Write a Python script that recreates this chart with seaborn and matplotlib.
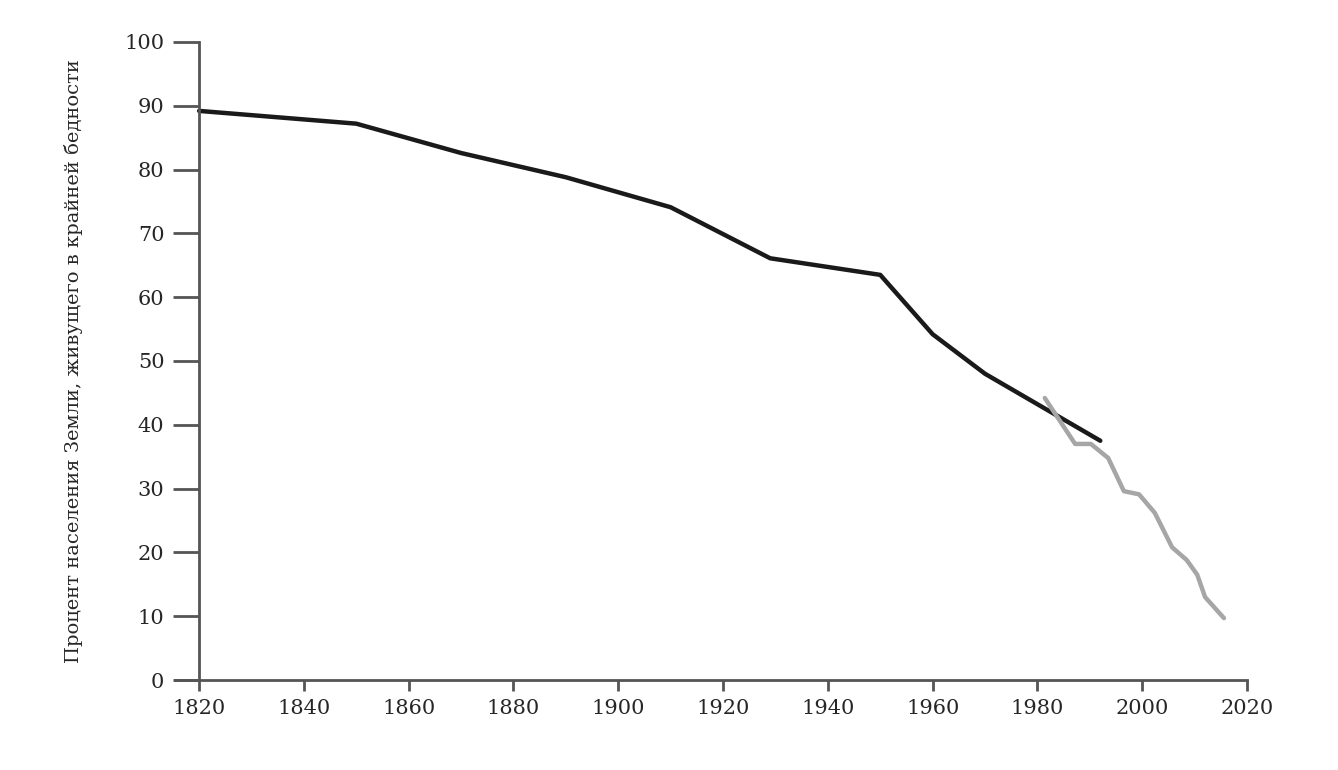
import matplotlib
matplotlib.use("Agg")
import matplotlib.pyplot as plt
import seaborn as sns
import pandas as pd

hist_years = [1820, 1850, 1870, 1890, 1910, 1929, 1950, 1960, 1970, 1992]
hist_vals = [89.2, 87.2, 82.6, 78.8, 74.1, 66.1, 63.5, 54.2, 48.0, 37.5]
wb_years = [1981.4, 1987.2, 1990.2, 1993.5, 1996.5, 1999.4, 2002.4, 2005.7, 2008.5, 2010.5, 2012, 2015.6]
wb_vals = [44.2, 37.0, 37.0, 34.8, 29.6, 29.1, 26.2, 20.8, 18.8, 16.5, 13.0, 9.7]
ylabel = "Процент населения Земли, живущего в крайней бедности"

sns.set_style("white")
plt.rcParams['font.family'] = ['DejaVu Serif']
fig = plt.figure(figsize=(13.38, 7.7), dpi=100)
ax = fig.add_axes([175/1338, 1-680/770, (1247-175)/1338, (680-42)/770])
sns.lineplot(x=hist_years, y=hist_vals, ax=ax, color="#1a1a1a", lw=3.2)
sns.lineplot(x=wb_years, y=wb_vals, ax=ax, color="#a6a6a6", lw=3.2)
ax.set_xlim(1815.4, 2020)
ax.set_ylim(0, 100)
ax.spines['left'].set_position(('data', 1820))
for s in ['top', 'right']:
    ax.spines[s].set_visible(False)
for s in ['left', 'bottom']:
    ax.spines[s].set_color("#555555")
    ax.spines[s].set_linewidth(2)
ax.set_xticks(range(1820, 2021, 20))
ax.set_yticks(range(0, 101, 10))
ax.tick_params(axis='y', left=True, direction='out', length=19, width=2, color="#555555", labelsize=15, pad=6)
ax.tick_params(axis='x', bottom=True, direction='out', length=8, width=2, color="#555555", labelsize=15, pad=6)
ax.set_ylabel(ylabel, fontsize=14, labelpad=30)
fig.savefig("out.png", dpi=100)
